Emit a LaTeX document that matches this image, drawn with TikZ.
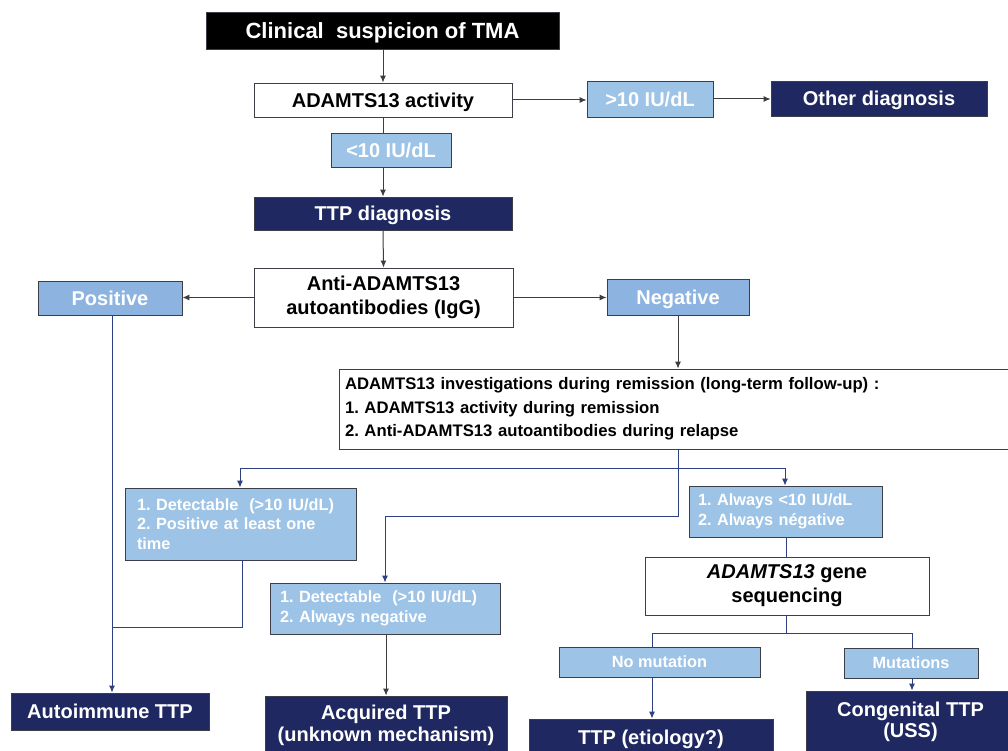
\documentclass[tikz,border=0pt]{standalone}
\usepackage{fontspec}
\setmainfont{Liberation Sans}
\usetikzlibrary{arrows.meta}
\definecolor{navy}{RGB}{31,40,96}
\definecolor{lblue}{RGB}{157,195,230}
\definecolor{pblue}{RGB}{141,180,224}
\definecolor{bord}{RGB}{60,62,72}
\definecolor{lgray}{RGB}{60,60,65}
\definecolor{cblue}{RGB}{45,65,130}
\frenchspacing
\tikzset{
  box/.style={draw=bord, line width=0.9pt, inner sep=0pt, font=\bfseries},
  blk/.style={box, fill=black, text=white},
  navybox/.style={box, fill=navy, text=white},
  wbox/.style={box, fill=white, text=black},
  lbox/.style={box, fill=lblue, text=white},
  pbox/.style={box, fill=pblue, text=white},
  big/.style={font=\bfseries\fontsize{20}{23}\selectfont, text depth=0pt},
  mid/.style={font=\bfseries\fontsize{16.3}{19.5}\selectfont},
  one/.style={text depth=0pt},
  conn/.style={draw=lgray, line width=1pt},
  arr/.style={conn, -{Latex[length=7pt,width=6pt]}},
  bconn/.style={draw=cblue, line width=1pt},
  barr/.style={bconn, -{Latex[length=7pt,width=6pt]}}
}
\begin{document}
\begin{tikzpicture}[x=1pt,y=-1pt]
\clip (0,0) rectangle (1008,751);
\fill[white] (0,0) rectangle (1008,751);
% nodes
\node[blk, one, minimum width=353pt, minimum height=37pt, font=\bfseries\fontsize{22}{25}\selectfont] (tma) at (382.5,30.5) {Clinical\ \ suspicion of TMA};
\node[wbox, big, minimum width=258pt, minimum height=34pt] (act) at (383,100) {ADAMTS13 activity};
\node[lbox, big, minimum width=126pt, minimum height=36pt] (gt) at (650,99) {>10 IU/dL};
\node[navybox, big, minimum width=216pt, minimum height=35pt] (other) at (879,98.5) {Other diagnosis};
\node[lbox, big, minimum width=120pt, minimum height=34pt] (lt) at (391,150) {<10 IU/dL};
\node[navybox, big, minimum width=258pt, minimum height=33pt] (ttp) at (383,213.5) {TTP diagnosis};
\node[wbox, minimum width=259pt, minimum height=59pt, align=center, font=\bfseries\fontsize{20}{24.5}\selectfont] (anti) at (383.5,297.5) {Anti-ADAMTS13\\autoantibodies (IgG)};
\node[pbox, big, minimum width=144pt, minimum height=34pt] (pos) at (110,298) {Positive};
\node[pbox, big, minimum width=142pt, minimum height=36pt] (neg) at (678,297) {Negative};
\node[wbox, minimum width=681pt, minimum height=80pt, text width=669pt, inner xsep=6pt, align=left, font=\bfseries\fontsize{16.7}{23.5}\selectfont] (inv) at (679.5,409) {ADAMTS13 investigations during remission (long-term follow-up) :\\1. ADAMTS13 activity during remission\\2. Anti-ADAMTS13 autoantibodies during relapse};
\node[lbox, mid, minimum width=231pt, minimum height=72pt, text width=207pt, inner xsep=12pt, align=left] (d1) at (240.5,524) {1. Detectable\ \ (>10 IU/dL)\\2. Positive at least one\\time};
\node[lbox, mid, minimum width=230pt, minimum height=51pt, text width=210pt, inner xsep=10pt, align=left] (d2) at (385,608.5) {1. Detectable\ \ (>10 IU/dL)\\2. Always negative};
\node[lbox, mid, minimum width=193pt, minimum height=51pt, text width=175pt, inner xsep=9pt, align=left] (a1) at (785.5,511.5) {1. Always <10 IU/dL\\2. Always négative};
\node[wbox, minimum width=284pt, minimum height=58pt, align=center, font=\bfseries\fontsize{20}{24}\selectfont] (gene) at (787,586) {\textit{ADAMTS13} gene\\sequencing};
\node[lbox, mid, one, minimum width=201pt, minimum height=30pt] (nomut) at (659.5,662) {No mutation};
\node[lbox, mid, one, minimum width=134pt, minimum height=30pt] (mut) at (911,663) {Mutations};
\node[navybox, big, minimum width=198pt, minimum height=37pt] (auto) at (110,711.5) {Autoimmune TTP};
\node[navybox, minimum width=242pt, minimum height=59pt, align=center, font=\bfseries\fontsize{20}{21.5}\selectfont] (acq) at (386,725.5) {Acquired TTP\\(unknown mechanism)};
\node[navybox, big, minimum width=244pt, minimum height=36pt] (etio) at (651,737) {TTP (etiology?)};
\node[navybox, minimum width=209pt, minimum height=62pt, align=center, font=\bfseries\fontsize{20}{21.5}\selectfont] (cong) at (910.5,722) {Congenital TTP\\(USS)};
% helper coordinates
\coordinate (j1) at (678,468);
\coordinate (jl) at (240,468);
\coordinate (jr) at (785,468);
\coordinate (j2) at (678,516);
\coordinate (j3) at (385,516);
\coordinate (k1) at (242,627);
\coordinate (k2) at (112,627);
\coordinate (g1) at (786,633);
\coordinate (gl) at (652,633);
\coordinate (gr) at (912,633);
% connectors top
\draw[arr] (tma.south -| act.north) -- (act.north);
\draw[arr] (act.east) -- (act.east -| gt.west);
\draw[arr] (gt.east) -- (gt.east -| other.west);
\draw[conn] (act.south) -- (act.south |- lt.north);
\draw[arr] (act.south |- lt.south) -- (ttp.north);
\draw[arr] (ttp.south) -- (anti.north);
\draw[arr] (anti.west) -- (anti.west -| pos.east);
\draw[arr] (anti.east) -- (anti.east -| neg.west);
\draw[arr] (neg.south) -- (neg.south |- inv.north);
% lower connectors
\draw[bconn] (inv.south -| j1) -- (j1);
\draw[bconn] (jl) -- (jr);
\draw[barr] (jl) -- (jl |- d1.north);
\draw[barr] (jr) -- (jr |- a1.north);
\draw[bconn] (j1) -- (j2) -- (j3);
\draw[barr] (j3) -- (j3 |- d2.north);
\draw[barr] (pos.south -| k2) -- (k2 |- auto.north);
\draw[bconn] (d1.south -| k1) -- (k1) -- (k2);
\draw[arr] (d2.south -| acq.north) -- (acq.north);
\draw[bconn] (a1.south -| g1) -- (g1 |- gene.north);
\draw[bconn] (gene.south -| g1) -- (g1);
\draw[bconn] (gl) -- (gr);
\draw[bconn] (gl) -- (gl |- nomut.north);
\draw[bconn] (gr) -- (gr |- mut.north);
\draw[barr] (nomut.south -| gl) -- (gl |- etio.north);
\draw[barr] (mut.south -| gr) -- (gr |- cong.north);
\end{tikzpicture}
\end{document}
